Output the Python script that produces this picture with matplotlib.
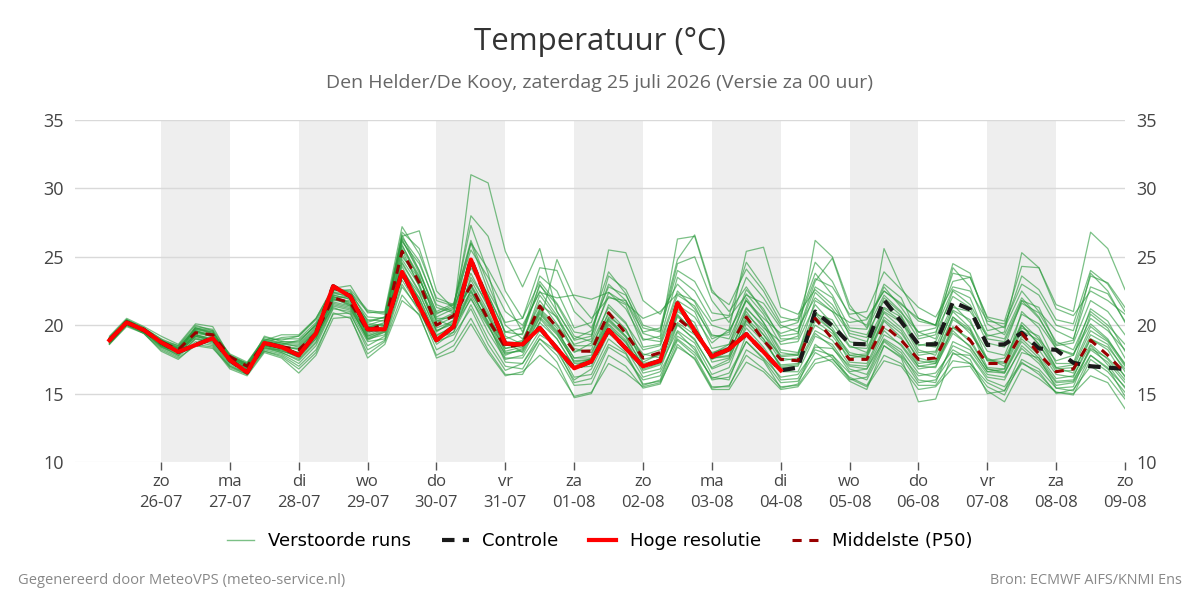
import matplotlib
matplotlib.use("Agg")
import matplotlib.pyplot as plt
import pandas as pd

plt.rcParams['font.family'] = ['Open Sans', 'DejaVu Sans']

# 6-uurlijkse stappen vanaf za 25-07 06:00
times = pd.date_range('2026-07-25 06:00', periods=60, freq='6h')

hres = [18.9, 20.2, 19.65, 18.75, 18.05, 18.55, 19.05, 17.45, 16.55, 18.7,
        18.4, 17.8, 19.4, 22.85, 22.1, 19.7, 19.7, 23.9, 21.4, 18.9,
        19.9, 24.8, 21.7, 18.65, 18.6, 19.8, 18.3, 16.85, 17.35, 19.65,
        18.3, 17.0, 17.4, 21.6, 19.6, 17.7, 18.25, 19.35, 18.05, 16.7]

control = hres + [16.9, 21.0, 19.95, 18.65, 18.6, 21.85, 20.25, 18.6, 18.6, 21.7,
                  21.15, 18.55, 18.6, 19.45, 18.3, 18.2, 17.25, 17.0, 16.9, 16.8]

p50 = [18.9, 20.2, 19.6, 18.8, 18.2, 19.45, 19.3, 17.7, 17.0, 18.67,
       18.43, 18.2, 19.4, 22.0, 21.65, 19.6, 20.1, 25.4, 23.1, 20.0,
       20.7, 22.9, 20.4, 18.4, 18.6, 21.4, 19.8, 18.1, 18.1, 20.9,
       19.4, 17.6, 18.0, 20.5, 19.5, 17.8, 18.3, 20.6, 18.9, 17.5,
       17.4, 20.5, 19.0, 17.5, 17.5, 20.0, 18.9, 17.5, 17.6, 20.1,
       18.9, 17.2, 17.2, 19.4, 17.9, 16.6, 16.8, 18.9, 17.8, 16.5]

members = [
    [18.8, 20.3, 19.7, 18.9, 18.4, 19.6, 19.3, 17.4, 16.9, 18.8, 18.6, 18.9, 20.0, 22.4, 22.0, 20.2, 20.6, 26.1, 24.5, 21.5,
     21.0, 31.0, 30.4, 25.4, 22.8, 25.6, 21.0, 18.9, 19.2, 22.1, 21.5, 18.4, 18.6, 22.2, 21.4, 19.0, 19.5, 22.3, 20.8, 18.6,
     18.8, 21.5, 20.1, 18.4, 18.3, 20.9, 19.8, 17.8, 18.0, 21.1, 20.4, 17.5, 17.3, 20.2, 19.0, 17.4, 17.8, 20.5, 19.6, 18.2],
    [19.1, 20.4, 19.8, 19.0, 18.0, 19.9, 19.7, 17.8, 17.2, 19.1, 18.9, 19.2, 20.4, 22.5, 22.6, 21.1, 20.9, 26.5, 26.9, 22.5,
     21.2, 28.0, 26.5, 22.5, 20.5, 24.2, 24.0, 21.0, 19.8, 22.8, 22.2, 19.8, 19.5, 24.5, 25.0, 21.8, 20.2, 23.5, 22.0, 20.0,
     19.5, 23.2, 24.9, 21.2, 20.5, 22.5, 21.6, 20.3, 20.0, 23.8, 23.5, 20.5, 19.8, 22.5, 21.0, 19.6, 19.0, 22.8, 22.3, 20.3],
    [18.6, 19.9, 19.4, 18.1, 17.5, 18.6, 18.4, 16.8, 16.3, 18.0, 17.6, 16.5, 17.8, 20.5, 20.6, 17.6, 18.6, 21.8, 20.8, 17.6,
     18.1, 20.1, 18.0, 16.3, 16.6, 17.8, 16.8, 14.8, 15.1, 17.2, 16.5, 15.5, 15.8, 18.4, 17.6, 15.4, 15.6, 17.8, 16.8, 15.5,
     15.6, 17.5, 17.8, 16.1, 15.5, 17.4, 17.0, 15.3, 15.5, 16.9, 17.0, 15.2, 14.4, 16.8, 16.1, 15.1, 15.0, 16.3, 15.8, 13.9],
    [18.9, 20.1, 19.5, 18.5, 17.8, 19.0, 18.8, 17.2, 16.6, 18.4, 18.0, 17.5, 18.8, 21.5, 21.2, 19.0, 19.3, 24.0, 22.0, 19.3,
     19.8, 23.5, 21.5, 18.8, 18.0, 20.2, 19.0, 17.0, 17.6, 19.8, 18.8, 16.5, 16.8, 20.0, 19.0, 16.8, 17.3, 19.8, 18.4, 16.6,
     16.6, 19.2, 18.6, 16.8, 16.4, 19.0, 18.2, 16.5, 16.2, 18.5, 17.9, 16.2, 16.0, 18.5, 17.4, 15.8, 15.9, 18.2, 17.3, 15.8],
    [19.0, 20.3, 19.8, 18.8, 18.3, 19.7, 19.4, 17.9, 17.3, 19.0, 18.7, 18.6, 19.9, 22.2, 21.9, 20.4, 20.3, 26.6, 24.0, 20.6,
     21.2, 24.8, 22.2, 19.5, 19.3, 22.9, 21.5, 19.2, 18.8, 22.4, 21.2, 18.9, 19.2, 26.3, 26.5, 22.4, 21.5, 24.1, 22.5, 20.2,
     20.5, 24.6, 23.2, 20.6, 20.0, 23.0, 22.0, 19.2, 19.5, 22.1, 21.3, 18.7, 18.4, 21.8, 21.3, 18.6, 18.9, 23.8, 22.5, 20.2],
    [18.7, 20.0, 19.5, 18.4, 17.9, 19.2, 18.9, 17.5, 16.8, 18.3, 18.2, 17.9, 19.1, 21.9, 21.5, 19.3, 19.8, 25.5, 22.8, 19.8,
     20.3, 22.5, 20.2, 18.3, 18.7, 22.2, 20.5, 18.6, 19.0, 25.5, 25.3, 21.8, 20.8, 23.0, 21.7, 19.3, 19.0, 21.8, 20.2, 18.2,
     18.0, 21.0, 19.8, 17.8, 17.6, 20.3, 19.1, 17.2, 17.4, 20.6, 19.4, 17.6, 17.0, 19.8, 19.2, 16.9, 16.5, 19.3, 18.6, 16.6],
    [19.2, 20.5, 19.9, 19.2, 18.6, 20.1, 19.9, 17.7, 17.1, 18.9, 19.3, 19.3, 20.5, 22.7, 22.9, 20.9, 21.0, 27.2, 25.2, 22.0,
     21.5, 26.2, 23.0, 20.0, 19.0, 21.5, 20.6, 18.0, 18.7, 21.3, 20.1, 18.2, 18.5, 21.5, 20.6, 18.7, 19.7, 25.4, 25.7, 21.3,
     20.8, 22.6, 21.5, 19.6, 19.3, 21.8, 20.7, 18.5, 18.8, 21.5, 20.2, 18.1, 17.8, 20.8, 20.1, 18.3, 17.9, 20.1, 19.0, 17.1],
    [18.8, 20.2, 19.6, 18.6, 18.1, 19.3, 19.0, 17.3, 16.7, 18.5, 18.5, 18.2, 19.5, 22.0, 21.4, 19.4, 20.0, 25.0, 23.4, 20.5,
     20.5, 23.0, 20.8, 18.1, 18.4, 20.9, 19.5, 17.6, 17.8, 21.0, 19.7, 17.3, 17.9, 21.2, 19.9, 17.5, 18.1, 20.5, 19.3, 17.8,
     17.9, 21.8, 21.0, 18.8, 18.5, 25.6, 22.8, 20.5, 20.0, 24.5, 23.8, 20.1, 19.3, 22.0, 20.6, 18.3, 17.8, 21.2, 20.3, 18.1],
    [19.0, 20.2, 19.7, 18.7, 18.2, 19.5, 19.2, 17.6, 17.0, 18.7, 18.4, 18.0, 19.3, 21.8, 21.8, 19.8, 20.2, 25.8, 23.6, 20.2,
     20.8, 22.8, 20.6, 18.6, 18.8, 21.8, 20.1, 18.3, 18.0, 20.5, 19.2, 17.8, 18.2, 20.8, 19.4, 17.9, 18.6, 21.3, 19.8, 18.8,
     19.2, 26.2, 25.0, 21.5, 19.8, 22.8, 21.3, 19.5, 19.8, 22.6, 22.0, 19.0, 18.8, 21.6, 20.9, 18.8, 18.2, 21.0, 20.0, 18.6],
    [18.9, 20.3, 19.6, 18.8, 18.3, 19.6, 19.2, 17.7, 17.1, 18.6, 18.3, 18.3, 19.6, 22.3, 22.2, 20.0, 20.4, 26.2, 24.0, 20.9,
     21.3, 24.2, 22.2, 19.5, 19.8, 22.5, 20.7, 18.5, 18.5, 20.8, 19.5, 17.9, 17.6, 20.2, 19.3, 17.6, 17.8, 20.8, 19.6, 17.6,
     17.4, 20.3, 19.4, 17.8, 17.9, 21.0, 20.2, 18.6, 18.4, 21.3, 21.0, 19.2, 19.5, 25.3, 24.2, 21.5, 21.0, 26.8, 25.6, 22.6],
    [18.7, 20.1, 19.5, 18.6, 18.0, 19.1, 18.7, 17.1, 16.5, 18.2, 17.9, 17.2, 18.5, 21.2, 21.0, 18.8, 19.0, 23.5, 22.0, 19.0,
     19.5, 22.0, 19.5, 17.5, 17.8, 20.2, 24.8, 22.0, 20.5, 22.0, 21.8, 19.5, 19.8, 24.8, 26.6, 22.6, 21.0, 22.8, 21.0, 19.2,
     19.4, 22.8, 22.0, 19.2, 18.8, 21.2, 20.3, 18.0, 18.1, 21.0, 19.8, 17.4, 17.2, 20.0, 18.6, 16.6, 16.7, 19.0, 18.2, 16.2],
    [19.0, 20.2, 19.6, 18.5, 18.1, 19.3, 18.9, 17.4, 16.8, 18.1, 17.8, 17.0, 18.2, 20.8, 20.9, 18.2, 18.9, 22.8, 21.2, 18.2,
     18.9, 21.5, 19.0, 17.0, 16.8, 19.0, 17.8, 15.6, 15.7, 18.4, 17.6, 16.0, 16.3, 19.2, 18.4, 16.0, 16.2, 18.8, 17.5, 15.8,
     15.9, 18.0, 17.3, 15.9, 15.3, 18.5, 17.6, 14.4, 14.6, 18.0, 17.2, 15.5, 14.9, 17.5, 16.8, 15.4, 15.2, 17.8, 16.9, 14.8],
    [18.8, 20.1, 19.6, 18.9, 18.5, 20.0, 19.6, 17.5, 16.9, 19.2, 18.8, 18.7, 20.1, 22.1, 21.6, 19.9, 20.0, 24.6, 22.5, 20.4,
     19.9, 21.9, 19.9, 17.9, 18.2, 20.6, 19.3, 17.4, 17.5, 20.1, 18.9, 16.7, 17.1, 19.6, 18.7, 16.4, 16.9, 20.1, 18.8, 17.1,
     17.2, 19.6, 18.9, 17.1, 17.0, 19.6, 18.5, 16.8, 17.0, 19.4, 18.5, 16.6, 16.5, 19.0, 17.8, 16.1, 16.3, 18.6, 17.5, 16.0],
    [19.1, 20.4, 19.8, 19.0, 18.5, 19.8, 19.5, 17.8, 17.2, 18.9, 19.0, 19.0, 20.2, 22.6, 22.3, 20.6, 20.5, 25.9, 23.3, 20.8,
     21.5, 25.5, 23.5, 21.0, 20.0, 22.4, 22.0, 22.2, 21.9, 22.4, 21.6, 20.5, 21.0, 22.3, 21.8, 20.0, 19.6, 21.8, 20.5, 19.4,
     19.8, 22.0, 21.0, 20.2, 20.4, 22.5, 21.5, 20.5, 20.0, 23.2, 23.5, 20.6, 20.3, 24.3, 24.2, 21.2, 20.7, 22.5, 21.8, 20.8],
    [18.6, 20.0, 19.4, 18.3, 17.7, 18.8, 18.5, 16.9, 16.4, 18.5, 18.1, 17.7, 19.0, 21.7, 21.4, 18.9, 19.5, 24.3, 21.8, 18.8,
     19.3, 21.2, 18.6, 16.7, 17.2, 19.3, 18.5, 16.2, 16.4, 19.0, 18.0, 15.7, 15.9, 18.9, 17.8, 15.5, 15.5, 18.2, 17.4, 15.4,
     15.7, 18.6, 17.6, 16.0, 16.2, 18.8, 17.8, 16.3, 16.5, 18.2, 17.5, 15.0, 15.2, 18.0, 17.6, 15.4, 15.5, 18.5, 17.1, 15.4],
    [18.9, 20.3, 19.7, 18.7, 18.2, 19.5, 19.3, 17.6, 17.0, 18.8, 18.6, 18.5, 19.8, 22.4, 22.3, 19.9, 20.1, 26.4, 24.7, 21.3,
     20.9, 26.0, 24.1, 21.8, 19.5, 23.6, 22.5, 19.8, 20.2, 23.9, 22.3, 19.4, 19.0, 23.5, 22.5, 20.3, 20.6, 22.2, 21.6, 19.8,
     20.2, 23.4, 22.8, 20.8, 21.0, 23.9, 22.6, 21.3, 20.6, 22.8, 22.5, 20.3, 20.1, 23.0, 22.2, 20.0, 19.6, 23.6, 23.1, 21.3],
    [18.8, 20.2, 19.5, 18.6, 18.1, 19.2, 18.9, 17.4, 16.7, 18.4, 18.1, 17.8, 19.2, 21.4, 21.1, 19.2, 19.6, 23.3, 21.3, 19.2,
     20.0, 22.2, 20.0, 17.6, 17.6, 19.6, 18.3, 15.8, 16.1, 18.6, 17.9, 15.6, 16.0, 19.5, 18.2, 16.1, 16.5, 18.8, 17.6, 16.2,
     16.4, 18.2, 17.8, 16.5, 16.0, 18.5, 17.7, 15.8, 16.0, 17.9, 17.8, 16.0, 15.5, 17.3, 16.4, 15.1, 14.9, 17.5, 16.6, 15.1],
    [19.0, 20.3, 19.7, 18.8, 18.4, 19.7, 19.5, 17.7, 17.2, 18.9, 18.7, 18.4, 19.7, 22.6, 22.5, 20.3, 20.6, 26.8, 25.6, 21.8,
     21.4, 27.3, 23.8, 19.2, 18.6, 21.1, 19.8, 17.2, 17.3, 20.3, 19.1, 17.0, 17.3, 21.8, 21.0, 18.3, 18.6, 22.0, 20.2, 18.0,
     17.8, 20.8, 20.4, 18.5, 18.0, 21.3, 20.6, 18.2, 17.8, 20.6, 19.7, 16.9, 16.8, 21.0, 19.8, 17.2, 17.2, 20.8, 19.8, 17.6],
    [18.7, 20.0, 19.4, 18.2, 17.6, 18.5, 18.3, 17.0, 16.4, 18.1, 17.7, 16.8, 18.0, 20.9, 20.5, 17.9, 18.8, 22.2, 20.7, 17.8,
     18.5, 20.5, 18.2, 16.4, 16.4, 18.7, 17.3, 14.7, 15.0, 17.8, 17.0, 15.4, 15.7, 18.6, 17.5, 15.3, 15.3, 17.3, 16.6, 15.3,
     15.5, 17.2, 17.5, 16.2, 15.6, 17.8, 17.2, 15.6, 15.6, 17.4, 17.2, 15.8, 15.2, 17.2, 16.6, 15.0, 15.3, 17.0, 16.2, 14.6],
    [18.9, 20.2, 19.6, 18.7, 18.2, 19.3, 19.0, 17.5, 16.9, 18.6, 18.3, 18.0, 19.3, 21.9, 21.7, 19.5, 19.9, 25.2, 23.0, 20.0,
     20.6, 23.8, 21.3, 18.5, 18.9, 21.2, 20.0, 18.1, 18.2, 21.5, 20.2, 17.5, 17.8, 20.7, 19.6, 18.0, 18.4, 21.0, 19.3, 17.4,
     17.6, 20.0, 19.2, 17.6, 17.8, 20.4, 19.4, 17.6, 17.3, 20.4, 19.6, 17.4, 17.6, 20.0, 18.6, 16.8, 16.9, 19.6, 18.8, 17.0],
    [19.1, 20.3, 19.7, 18.5, 18.0, 19.8, 19.6, 17.3, 16.6, 18.7, 19.1, 19.2, 20.5, 22.8, 22.4, 21.0, 20.8, 26.3, 23.8, 21.0,
     21.6, 26.0, 22.5, 20.2, 20.5, 23.2, 21.6, 19.5, 19.3, 23.6, 22.6, 20.0, 19.6, 24.0, 23.2, 20.9, 20.7, 24.6, 22.8, 20.6,
     20.3, 23.8, 22.2, 19.8, 19.7, 22.2, 21.0, 19.0, 19.3, 24.2, 22.8, 19.6, 19.9, 23.6, 22.6, 20.4, 20.1, 24.0, 23.0, 21.0],
    [18.8, 20.1, 19.5, 18.4, 17.8, 19.0, 18.6, 17.0, 16.5, 18.3, 18.0, 17.4, 18.7, 21.3, 20.8, 18.5, 19.2, 23.0, 21.0, 18.6,
     19.5, 22.6, 20.1, 17.3, 17.2, 19.0, 18.1, 16.0, 16.8, 19.4, 18.3, 16.2, 16.6, 19.0, 18.0, 16.2, 16.0, 19.3, 18.0, 16.0,
     16.1, 18.4, 18.3, 17.0, 16.8, 18.9, 18.0, 16.0, 15.8, 18.8, 18.2, 16.4, 16.2, 18.3, 17.2, 15.6, 15.8, 17.8, 16.8, 15.5],
    [18.9, 20.4, 19.8, 18.6, 18.0, 19.4, 19.2, 17.6, 17.0, 18.8, 18.5, 18.3, 19.6, 22.2, 21.9, 19.2, 19.7, 24.8, 22.9, 19.6,
     20.2, 23.3, 21.0, 18.3, 18.5, 21.0, 19.6, 17.6, 17.6, 20.6, 19.7, 17.2, 17.5, 21.0, 20.2, 17.3, 17.6, 20.3, 19.0, 17.0,
     17.1, 20.8, 19.6, 17.3, 17.2, 19.8, 19.0, 17.0, 16.9, 19.8, 19.0, 16.8, 16.6, 19.2, 18.2, 16.4, 16.2, 19.0, 18.4, 16.8],
    [19.0, 20.2, 19.7, 18.9, 18.3, 19.6, 19.1, 17.8, 17.1, 18.5, 18.2, 17.6, 19.0, 21.6, 21.3, 19.0, 19.6, 24.5, 22.4, 19.5,
     20.4, 22.9, 20.6, 18.0, 18.1, 20.5, 19.0, 16.9, 17.0, 20.0, 18.7, 16.8, 17.2, 20.1, 18.9, 16.9, 17.5, 20.4, 19.0, 16.9,
     17.0, 19.4, 18.4, 16.6, 16.8, 19.3, 18.6, 17.0, 17.2, 19.9, 18.8, 16.8, 16.5, 18.8, 17.6, 15.9, 16.0, 18.3, 17.6, 16.3],
    [18.8, 20.3, 19.7, 18.8, 18.3, 19.8, 19.4, 17.6, 17.1, 18.6, 18.8, 18.8, 20.0, 22.0, 22.1, 20.1, 20.0, 25.6, 23.5, 20.3,
     20.9, 24.6, 22.0, 19.0, 19.4, 23.0, 21.0, 19.0, 19.6, 23.0, 21.8, 19.0, 18.8, 22.5, 21.2, 19.2, 19.3, 22.6, 21.2, 19.0,
     19.0, 22.4, 21.2, 19.4, 19.1, 22.0, 20.9, 19.5, 19.0, 22.5, 21.5, 19.3, 19.0, 21.8, 20.5, 18.5, 18.7, 21.8, 21.0, 19.3],
    [18.7, 20.1, 19.6, 18.5, 18.0, 19.2, 18.8, 17.3, 16.6, 18.5, 18.3, 17.9, 19.2, 22.1, 21.5, 19.1, 19.5, 24.0, 22.3, 19.6,
     20.1, 22.4, 20.3, 17.8, 18.3, 20.8, 19.4, 17.3, 17.5, 20.4, 19.2, 17.0, 17.4, 20.6, 19.6, 17.6, 17.7, 21.2, 20.0, 17.7,
     17.8, 20.6, 19.6, 18.0, 17.7, 20.6, 19.6, 17.4, 17.2, 19.6, 18.4, 16.6, 16.8, 19.6, 18.9, 16.9, 17.1, 19.9, 18.9, 17.2],
]

day_labels = ['zo\n26-07', 'ma\n27-07', 'di\n28-07', 'wo\n29-07', 'do\n30-07', 'vr\n31-07', 'za\n01-08',
              'zo\n02-08', 'ma\n03-08', 'di\n04-08', 'wo\n05-08', 'do\n06-08', 'vr\n07-08', 'za\n08-08', 'zo\n09-08']
day_ticks = pd.date_range('2026-07-26', periods=15, freq='D')

fig = plt.figure(figsize=(12, 6), dpi=100)
ax = fig.add_axes([0.0625, 0.23, 0.875, 0.57])

# grijze banden om de andere dag
for k in range(0, 14, 2):
    ax.axvspan(day_ticks[k], day_ticks[k + 1], color='#eeeeee', lw=0, zorder=0)

for yv in range(15, 36, 5):
    ax.axhline(yv, color='#d9d9d9', lw=1, zorder=1)
ax.axhline(10, color='#f4f4f4', lw=1, zorder=1)

for i, m in enumerate(members):
    ax.plot(times, m, color='#2a9a3c', lw=0.9, alpha=0.62, zorder=2,
            label='Verstoorde runs' if i == 0 else None)

ax.plot(times, control, color='#1a1a1a', lw=3, ls=(0, (3, 2)), zorder=3, label='Controle')
ax.plot(times[:len(hres)], hres, color='#ff0000', lw=3, zorder=5, label='Hoge resolutie')
ax.plot(times, p50, color='#990000', lw=2.2, ls=(0, (3, 2.5)), zorder=4, label='Middelste (P50)')

ax.set_ylim(10, 35)
ax.set_xlim(pd.Timestamp('2026-07-24 18:00'), pd.Timestamp('2026-08-09 00:00'))
ax.set_yticks(range(10, 36, 5))
ax.set_xticks(day_ticks)
ax.set_xticklabels(day_labels, linespacing=1.35)
ax.tick_params(axis='x', length=6, width=1, color='#555555', labelsize=12, labelcolor='#444444', pad=3)
ax.tick_params(axis='y', length=0, labelsize=13, labelcolor='#444444', pad=8,
               labelleft=True, labelright=True)
for s in ax.spines.values():
    s.set_visible(False)

fig.text(0.5, 0.93, 'Temperatuur (°C)', ha='center', va='center', fontsize=22.5, color='#333333')
fig.text(0.5, 0.861, 'Den Helder/De Kooy, zaterdag 25 juli 2026 (Versie za 00 uur)',
         ha='center', va='center', fontsize=14, color='#666666')

leg = fig.legend(loc='center', bbox_to_anchor=(0.5, 0.098), ncol=4, frameon=False,
                 prop={'family': 'DejaVu Sans', 'size': 13}, handlelength=1.5,
                 handletextpad=0.75, columnspacing=1.7)
leg.get_lines()[0].set_linewidth(1)

fig.text(0.015, 0.033, 'Gegenereerd door MeteoVPS (meteo-service.nl)', ha='left', va='center',
         fontsize=10.6, color='#888888')
fig.text(0.985, 0.033, 'Bron: ECMWF AIFS/KNMI Ens', ha='right', va='center',
         fontsize=10.4, color='#888888')

fig.savefig('out.png', dpi=100)
